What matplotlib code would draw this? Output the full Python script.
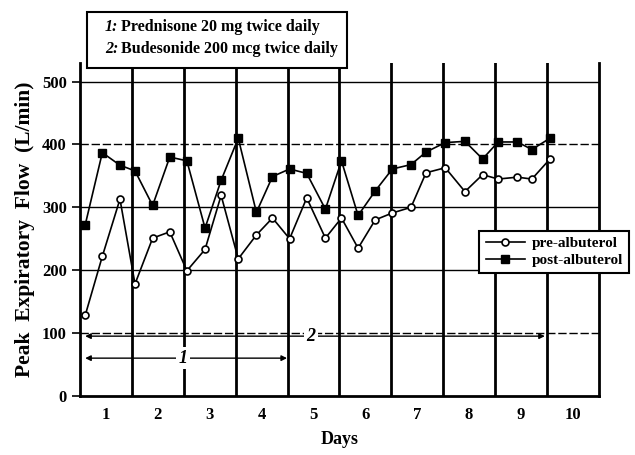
import matplotlib
matplotlib.use("Agg")
import matplotlib.pyplot as plt

plt.rcParams['font.family'] = ['Liberation Serif', 'DejaVu Serif']
plt.rcParams['font.weight'] = 'bold'

# measurement times (days) and peak flow readings
times = [0.10, 0.43, 0.77, 1.06, 1.40, 1.73, 2.06, 2.41, 2.72, 3.05, 3.40, 3.71, 4.04, 4.37,
         4.73, 5.04, 5.36, 5.69, 6.02, 6.38, 6.67, 7.04, 7.42, 7.76, 8.06, 8.43, 8.71, 9.06]
pre_albuterol = [128, 222, 313, 178, 251, 261, 199, 233, 319, 218, 256, 283, 250, 315,
                 251, 283, 235, 280, 291, 300, 355, 363, 325, 352, 345, 348, 345, 377]
post_albuterol = [272, 387, 367, 358, 303, 380, 374, 267, 343, 410, 292, 349, 361, 354,
                  297, 374, 287, 326, 361, 368, 388, 403, 405, 377, 404, 404, 392, 410]

day_labels = ['1', '2', '3', '4', '5', '6', '7', '8', '9', '10']
y_ticks = [0, 100, 200, 300, 400, 500]

# treatment periods: (label, start day, end day, y level, label position)
periods = [('1', 0.10, 3.99, 60, 1.98), ('2', 0.10, 8.96, 95, 4.45)]
treatments = [('1:', 'Prednisone 20 mg twice daily'),
              ('2:', 'Budesonide 200 mcg twice daily')]

fig = plt.figure(figsize=(6.35, 4.55), dpi=100)
ax = fig.add_axes([0.126, 0.13, 0.817, 0.732])

ax.set_xlim(0, 10)
ax.set_ylim(0, 530)

# grid: horizontal lines and day dividers
for v in y_ticks[1:]:
    ls = '-' if v in (200, 300, 500) else (0, (6, 2))
    ax.axhline(v, color='black', lw=1.0, ls=ls, zorder=1)
for d in range(1, 10):
    ax.axvline(d, color='black', lw=2.0, zorder=1)

ax.plot(times, pre_albuterol, color='black', lw=1.2, marker='o', ms=5,
        mfc='white', mec='black', mew=1.2, zorder=3, label='pre-albuterol')
ax.plot(times, post_albuterol, color='black', lw=1.2, marker='s', ms=6,
        mfc='black', mec='black', zorder=3, label='post-albuterol')

# treatment period arrows
for lab, x0, x1, yv, xl in periods:
    ax.annotate('', xy=(x0, yv), xytext=(x1, yv),
                arrowprops=dict(arrowstyle='<|-|>', color='black', lw=1.0,
                                mutation_scale=8, shrinkA=0, shrinkB=0), zorder=4)
    ax.text(xl, yv, lab, ha='center', va='center', fontsize=13, style='italic',
            fontweight='bold', bbox=dict(fc='white', ec='none', pad=2), zorder=5)

ax.set_xticks([d + 0.5 for d in range(10)])
ax.set_xticklabels(day_labels, fontsize=12, fontweight='bold')
ax.tick_params(axis='x', length=0, pad=8)
ax.set_yticks(y_ticks)
ax.set_yticklabels([str(v) for v in y_ticks], fontsize=12, fontweight='bold')
ax.tick_params(axis='y', length=6, width=1.2, direction='out')

ax.spines['top'].set_visible(False)
for s in ('left', 'right', 'bottom'):
    ax.spines[s].set_linewidth(2.0)

ax.set_xlabel('Days', fontsize=13, fontweight='bold', labelpad=6)
ax.set_ylabel('Peak  Expiratory  Flow  (L/min)', fontsize=15.5, fontweight='bold', labelpad=5)

leg = fig.legend(loc='upper left', bbox_to_anchor=(0.743, 0.51), fontsize=11,
                 frameon=True, fancybox=False, edgecolor='black', handlelength=2.6,
                 borderpad=0.4, labelspacing=0.2, handletextpad=0.4, framealpha=1)
leg.get_frame().set_linewidth(1.5)

# treatment key box above the plot, drawn over the dividers
box = plt.Rectangle((0.137, 0.851), 0.41, 0.123, transform=fig.transFigure,
                    fc='white', ec='black', lw=1.5, zorder=10, clip_on=False)
ax.add_patch(box)
for i, (num, desc) in enumerate(treatments):
    yy = 0.94 - i * 0.048
    ax.text(0.165, yy, num, transform=fig.transFigure, fontsize=11.5, style='italic',
            fontweight='bold', va='center', ha='left', zorder=11)
    ax.text(0.190, yy, desc, transform=fig.transFigure, fontsize=11.5,
            fontweight='bold', va='center', ha='left', zorder=11)

fig.savefig('out.png', dpi=100)
